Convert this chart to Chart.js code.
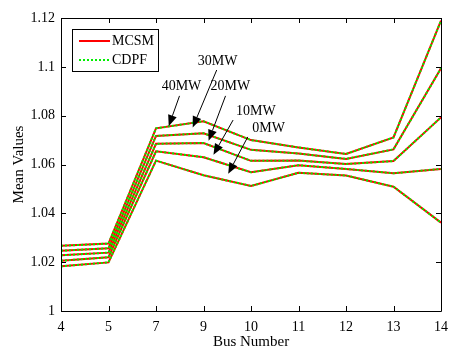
<!DOCTYPE html>
<html>
<head>
<meta charset="utf-8">
<script src="https://cdn.jsdelivr.net/npm/chart.js@4.4.1/dist/chart.umd.min.js"></script>
<style>
  html, body { margin: 0; padding: 0; background: #fff; }
  #wrap { width: 456px; height: 351px; }
</style>
</head>
<body>
<div id="wrap"><canvas id="c" width="456" height="351"></canvas></div>
<script>
// Bus numbers along the x axis
const buses = ['4', '5', '7', '9', '10', '11', '12', '13', '14'];

// Mean voltage values per wind power level
const mw40 = [1.0267, 1.0276, 1.0748, 1.0777, 1.0700, 1.0670, 1.0643, 1.0711, 1.1189];
const mw30 = [1.0247, 1.0257, 1.0717, 1.0728, 1.0660, 1.0645, 1.0623, 1.0662, 1.0994];
const mw20 = [1.0228, 1.0239, 1.0685, 1.0688, 1.0615, 1.0616, 1.0602, 1.0614, 1.0793];
const mw10 = [1.0206, 1.0220, 1.0654, 1.0630, 1.0568, 1.0597, 1.0582, 1.0564, 1.0582];
const mw0  = [1.0183, 1.0199, 1.0616, 1.0556, 1.0512, 1.0566, 1.0555, 1.0509, 1.0362];

const levelNames = ['40MW', '30MW', '20MW', '10MW', '0MW'];
const levelValues = [mw40, mw30, mw20, mw10, mw0];

// Y-axis ticks
const yTicks = [1, 1.02, 1.04, 1.06, 1.08, 1.1, 1.12];

// Callout labels: text anchor, arrow tail and arrow tip (category index, value)
const callouts = [
  { text: '40MW', tx: 2.536, ty: 1.0921, ax: 2.495, ay: 1.0881, bx: 2.268, by: 1.0757 },
  { text: '30MW', tx: 3.299, ty: 1.1024, ax: 3.278, ay: 1.0987, bx: 2.773, by: 1.0752 },
  { text: '20MW', tx: 3.567, ty: 1.0921, ax: 3.464, ay: 1.0881, bx: 3.107, by: 1.0697 },
  { text: '10MW', tx: 4.103, ty: 1.0819, ax: 3.623, ay: 1.0782, bx: 3.210, by: 1.0640 },
  { text: '0MW',  tx: 4.371, ty: 1.0749, ax: 3.932, ay: 1.0713, bx: 3.520, by: 1.0562 }
];

const FONT = '"Liberation Serif", "Times New Roman", serif';

const datasets = [];
levelValues.forEach((vals, i) => {
  datasets.push({
    label: 'MCSM ' + levelNames[i],
    data: vals,
    borderColor: '#ff0000',
    borderWidth: 2,
    pointRadius: 0,
    tension: 0,
    fill: false,
    order: 2
  });
});
levelValues.forEach((vals, i) => {
  datasets.push({
    label: 'CDPF ' + levelNames[i],
    data: vals,
    borderColor: '#00f000',
    borderWidth: 2,
    borderDash: [2, 2],
    pointRadius: 0,
    tension: 0,
    fill: false,
    order: 1
  });
});

// Frame, inward ticks, legend box and arrow callouts
const decor = {
  id: 'decor',
  afterDatasetsDraw(chart) {
    const ctx = chart.ctx;
    const a = chart.chartArea;
    const xs = chart.scales.x, ys = chart.scales.y;
    ctx.save();
    ctx.strokeStyle = '#000';
    ctx.lineWidth = 1;
    ctx.beginPath();
    ctx.rect(Math.round(a.left) + 0.5, Math.round(a.top) + 0.5,
             Math.round(a.right - a.left), Math.round(a.bottom - a.top));
    ctx.stroke();

    const tl = 5;
    ctx.beginPath();
    buses.forEach((b, i) => {
      const px = Math.round(xs.getPixelForValue(i)) + 0.5;
      ctx.moveTo(px, a.bottom); ctx.lineTo(px, a.bottom - tl);
      ctx.moveTo(px, a.top); ctx.lineTo(px, a.top + tl);
    });
    yTicks.forEach(v => {
      const py = Math.round(ys.getPixelForValue(v)) + 0.5;
      ctx.moveTo(a.left, py); ctx.lineTo(a.left + tl, py);
      ctx.moveTo(a.right, py); ctx.lineTo(a.right - tl, py);
    });
    ctx.stroke();

    // callouts
    ctx.fillStyle = '#000';
    ctx.font = '14px ' + FONT;
    ctx.textAlign = 'center';
    ctx.textBaseline = 'middle';
    callouts.forEach(c => {
      const tx = xs.getPixelForValue(c.tx), ty = ys.getPixelForValue(c.ty);
      ctx.fillText(c.text, tx, ty);
      const x1 = xs.getPixelForValue(c.ax), y1 = ys.getPixelForValue(c.ay);
      const x2 = xs.getPixelForValue(c.bx), y2 = ys.getPixelForValue(c.by);
      const ang = Math.atan2(y2 - y1, x2 - x1);
      const hl = 11, hw = 4.5;
      const bxp = x2 - hl * Math.cos(ang), byp = y2 - hl * Math.sin(ang);
      ctx.beginPath();
      ctx.moveTo(x1, y1); ctx.lineTo(bxp, byp);
      ctx.stroke();
      ctx.beginPath();
      ctx.moveTo(x2, y2);
      ctx.lineTo(bxp + hw * Math.sin(ang), byp - hw * Math.cos(ang));
      ctx.lineTo(bxp - hw * Math.sin(ang), byp + hw * Math.cos(ang));
      ctx.closePath();
      ctx.fill();
    });

    // legend
    const lx = a.left + 11, ly = a.top + 11, lw = 86, lh = 42;
    ctx.fillStyle = '#fff';
    ctx.fillRect(lx, ly, lw, lh);
    ctx.strokeStyle = '#000';
    ctx.lineWidth = 1;
    ctx.strokeRect(lx + 0.5, ly + 0.5, lw, lh);
    ctx.lineWidth = 2;
    ctx.strokeStyle = '#ff0000';
    ctx.beginPath(); ctx.moveTo(lx + 7, ly + 12); ctx.lineTo(lx + 38, ly + 12); ctx.stroke();
    ctx.strokeStyle = '#00f000';
    ctx.setLineDash([2, 2]);
    ctx.beginPath(); ctx.moveTo(lx + 7, ly + 31); ctx.lineTo(lx + 38, ly + 31); ctx.stroke();
    ctx.setLineDash([]);
    ctx.fillStyle = '#000';
    ctx.textAlign = 'left';
    ctx.font = '14px ' + FONT;
    ctx.fillText('MCSM', lx + 40, ly + 12);
    ctx.fillText('CDPF', lx + 40, ly + 31);
    ctx.restore();
  }
};

new Chart(document.getElementById('c'), {
  type: 'line',
  data: { labels: buses, datasets },
  plugins: [decor],
  options: {
    responsive: false,
    animation: false,
    devicePixelRatio: 1,
    layout: { padding: { top: 18, right: 7, left: 0, bottom: 0 } },
    plugins: { legend: { display: false }, tooltip: { enabled: false } },
    scales: {
      x: {
        type: 'category',
        offset: false,
        grid: { display: false, drawTicks: false },
        border: { display: false },
        ticks: { color: '#000', font: { family: FONT, size: 14 }, padding: 8, maxRotation: 0, autoSkip: false },
        title: { display: true, text: 'Bus Number', color: '#000', font: { family: FONT, size: 15 }, padding: { top: 2, bottom: 0 } },
        afterFit(s) { s.height = 40; }
      },
      y: {
        min: 1, max: 1.12,
        grid: { display: false, drawTicks: false },
        border: { display: false },
        afterBuildTicks(s) { s.ticks = yTicks.map(v => ({ value: v })); },
        ticks: {
          color: '#000', font: { family: FONT, size: 14 }, padding: 6,
          callback: v => String(Number(v.toFixed(2)))
        },
        title: { display: true, text: 'Mean Values', color: '#000', font: { family: FONT, size: 15 }, padding: { top: 10, bottom: 0 } },
        afterFit(s) { s.width = 61; }
      }
    }
  }
});
</script>
</body>
</html>
